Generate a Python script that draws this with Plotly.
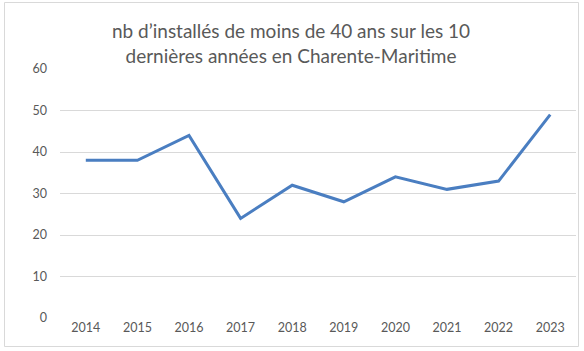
import plotly.graph_objects as go

years = ["2014", "2015", "2016", "2017", "2018", "2019", "2020", "2021", "2022", "2023"]
values = [38, 38, 44, 24, 32, 28, 34, 31, 33, 49]
y_ticks = [0, 10, 20, 30, 40, 50, 60]
title_text = "nb d’installés de moins de 40 ans sur les 10<br>dernières années en Charente-Maritime"

W, H = 584, 351
L, R, T, B = 60, 8, 69, 33
pw, ph = W - L - R, H - T - B

def px_x(x):
    return (x - L) / pw

def px_y(y):
    return (H - B - y) / ph

fig = go.Figure()
fig.add_trace(go.Scatter(
    x=years, y=values, mode="lines",
    line=dict(color="#4A7EC1", width=3),
    hoverinfo="x+y",
))

font = "Lato, Carlito, Calibri, 'Open Sans', sans-serif"
fig.update_layout(
    width=W, height=H,
    margin=dict(l=L, r=R, t=T, b=B),
    paper_bgcolor="white", plot_bgcolor="white",
    showlegend=False,
    font=dict(family=font, color="#595959", size=12.5),
    title=dict(
        text=title_text,
        x=291 / W, xanchor="center", xref="container",
        y=1 - 38 / H, yanchor="middle", yref="container",
        font=dict(family=font, size=19, color="#595959"),
    ),
    xaxis=dict(
        type="category", range=[-0.5, 9.5],
        showgrid=False, zeroline=False, showline=False,
        ticks="", tickfont=dict(size=12.5, color="#595959"),
        fixedrange=True,
    ),
    yaxis=dict(
        range=[0, 60], tickvals=y_ticks,
        showgrid=True, gridcolor="#D9D9D9", gridwidth=1,
        zeroline=False, showline=False, ticks="",
        ticklabelstandoff=12,
        tickfont=dict(size=12.5, color="#595959"),
        fixedrange=True,
    ),
    shapes=[dict(
        type="rect", xref="paper", yref="paper",
        x0=px_x(4.5), x1=px_x(578.5), y0=px_y(346.5), y1=px_y(2.5),
        line=dict(color="#D9D9D9", width=1), fillcolor="rgba(0,0,0,0)",
        layer="below",
    )],
)

fig.write_html("out.html")
